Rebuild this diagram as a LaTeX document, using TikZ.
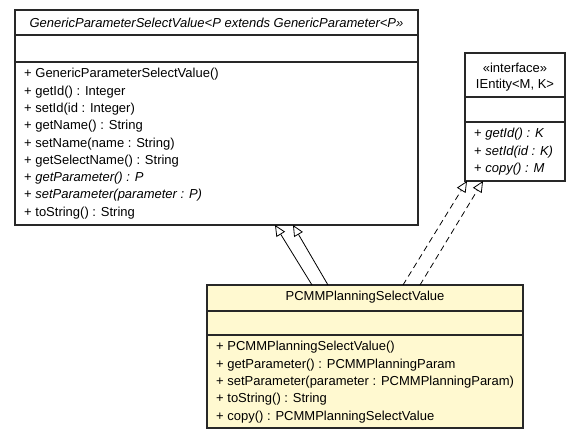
\documentclass[tikz,border=0pt]{standalone}
\usepackage{fontspec}
\setmainfont{Liberation Sans}
\usetikzlibrary{arrows.meta}
\definecolor{classfill}{RGB}{255,249,208}
\definecolor{edge}{RGB}{40,40,40}
\tikzset{
  classbox/.style={draw=edge, line width=1.3pt},
  sepline/.style={draw=edge, line width=1.3pt},
  member/.style={anchor=west, inner sep=0pt, font=\fontsize{13}{15}\selectfont},
  ctitle/.style={anchor=center, inner sep=0pt, font=\fontsize{13}{15}\selectfont},
  inherit/.style={draw=black, line width=0.8pt, -{Triangle[open, length=11pt, width=10pt, fill=white]}},
  realize/.style={inherit, dash pattern=on 6pt off 4pt}
}
\begin{document}
\begin{tikzpicture}[x=1pt, y=-1pt]
\useasboundingbox (0,0) rectangle (581,440);

% ---- GenericParameterSelectValue ----
\path[classbox, fill=white] (15,10) rectangle (418,225);
\draw[sepline] (15,35) -- (418,35);
\draw[sepline] (15,62) -- (418,62);
\node[ctitle] (gtitle) at (216.5,23) {\itshape GenericParameterSelectValue<P extends GenericParameter<P>>};
\node[member] (g1) at (24,74.5) {+ GenericParameterSelectValue()};
\node[member] (g2) at (24,91.8) {+ getId() : Integer};
\node[member] (g3) at (24,109.1) {+ setId(id : Integer)};
\node[member] (g4) at (24,126.4) {+ getName() : String};
\node[member] (g5) at (24,143.7) {+ setName(name : String)};
\node[member] (g6) at (24,161.0) {+ getSelectName() : String};
\node[member] (g7) at (24,178.3) {+ \itshape getParameter() : P};
\node[member] (g8) at (24,195.6) {+ \itshape setParameter(parameter : P)};
\node[member] (g9) at (24,212.9) {+ toString() : String};
\coordinate (gA) at (275,225);
\coordinate (gB) at (293,225);

% ---- IEntity ----
\path[classbox, fill=white] (465,53) rectangle (565,181);
\draw[sepline] (465,97) -- (565,97);
\draw[sepline] (465,122) -- (565,122);
\node[ctitle] (ister) at (515,68) {«interface»};
\node[ctitle] (ititle) at (515,85) {IEntity<M, K>};
\node[member] (i1) at (474,134.5) {+ \itshape getId() : K};
\node[member] (i2) at (474,151.8) {+ \itshape setId(id : K)};
\node[member] (i3) at (474,169.1) {+ \itshape copy() : M};
\coordinate (iA) at (467,181);
\coordinate (iB) at (483,181);

% ---- PCMMPlanningSelectValue ----
\path[classbox, fill=classfill] (207,285) rectangle (523,428);
\draw[sepline] (207,311) -- (523,311);
\draw[sepline] (207,335) -- (523,335);
\node[ctitle] (ptitle) at (365,297.5) {PCMMPlanningSelectValue};
\node[member] (p1) at (216,347.5) {+ PCMMPlanningSelectValue()};
\node[member] (p2) at (216,364.8) {+ getParameter() : PCMMPlanningParam};
\node[member] (p3) at (216,382.1) {+ setParameter(parameter : PCMMPlanningParam)};
\node[member] (p4) at (216,399.4) {+ toString() : String};
\node[member] (p5) at (216,416.7) {+ copy() : PCMMPlanningSelectValue};
\coordinate (pA) at (312,285);
\coordinate (pB) at (328,285);
\coordinate (pC) at (403,285);
\coordinate (pD) at (420,285);

% ---- relations ----
\draw[inherit] (pA) -- (gA);
\draw[inherit] (pB) -- (gB);
\draw[realize] (pC) -- (iA);
\draw[realize] (pD) -- (iB);
\end{tikzpicture}
\end{document}
